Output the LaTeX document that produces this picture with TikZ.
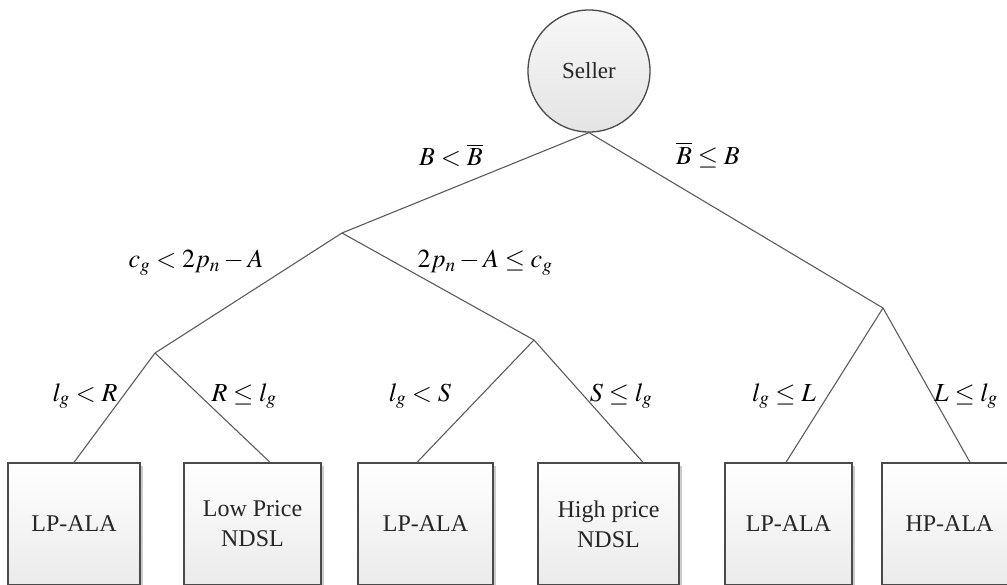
\documentclass[tikz,border=0pt]{standalone}
\usepackage{mathptmx}
\usepackage{fontspec}
\setmainfont{Liberation Serif}
\usetikzlibrary{shadows}
\definecolor{linec}{HTML}{5C5C5C}
\definecolor{boxline}{HTML}{4A4A4A}
\definecolor{circfill}{HTML}{E4E4E4}
\tikzset{
  conn/.style={draw=linec, line width=1.1pt},
  leaf/.style={draw=boxline, line width=1.4pt, top color=white, bottom color=black!8,
    minimum width=#1, minimum height=122pt, inner sep=0pt, align=center,
    font=\fontsize{24}{30}\selectfont, text=black!85,
    drop shadow={shadow xshift=2.5pt, shadow yshift=-2.5pt, opacity=0.2, fill=black}},
  root/.style={circle, draw=boxline, line width=1.3pt, top color=white!97!black, bottom color=circfill,
    minimum size=122pt, inner sep=0pt, font=\fontsize{23}{28}\selectfont, text=black!85},
  lab/.style={font=\fontsize{26}{29}\selectfont, inner sep=0pt}
}
\begin{document}
\begin{tikzpicture}[x=1pt, y=-1pt]
\clip (0,0) rectangle (1007,584);
\fill[white] (0,0) rectangle (1007,584);

\node[root] (seller) at (589,71) {Seller};

\coordinate (j1) at (342,233);
\coordinate (j2) at (883,308);
\coordinate (j3) at (155,353);
\coordinate (j4) at (534,340);

\node[leaf=132pt] (b1) at (74,524)    {LP-ALA};
\node[leaf=137pt] (b2) at (252.5,524) {Low Price\\NDSL};
\node[leaf=135pt] (b3) at (425.5,524) {LP-ALA};
\node[leaf=141pt] (b4) at (608.5,524) {High price\\NDSL};
\node[leaf=127pt] (b5) at (788.5,524) {LP-ALA};
\node[leaf=135pt] (b6) at (949.5,524) {HP-ALA};

\draw[conn] (seller.south) -- (j1);
\draw[conn] (seller.south) -- (j2);
\draw[conn] (j1) -- (j3);
\draw[conn] (j1) -- (j4);
\draw[conn] (j3) -- (b1.north);
\draw[conn] (j3) -- ([xshift=17.5pt]b2.north);
\draw[conn] (j4) -- ([xshift=-8.5pt]b3.north);
\draw[conn] (j4) -- ([xshift=34.5pt]b4.north);
\draw[conn] (j2) -- ([xshift=-2.5pt]b5.north);
\draw[conn] (j2) -- ([xshift=20.5pt]b6.north);

\node[lab] (l1) at (451,155) {$B<\overline{B}$};
\node[lab] (l2) at (708,155) {$\overline{B}\le B$};
\node[lab] (l3) at (196,263) {$c_g<2p_n-A$};
\node[lab] (l4) at (485,263) {$2p_n-A\le c_g$};
\node[lab] (l5) at (85,396)  {$l_g<R$};
\node[lab] (l6) at (244,396) {$R\le l_g$};
\node[lab] (l7) at (420,396) {$l_g<S$};
\node[lab] (l8) at (621,396) {$S\le l_g$};
\node[lab] (l9) at (784,396) {$l_g\le L$};
\node[lab] (l10) at (966,396) {$L\le l_g$};
\end{tikzpicture}
\end{document}
